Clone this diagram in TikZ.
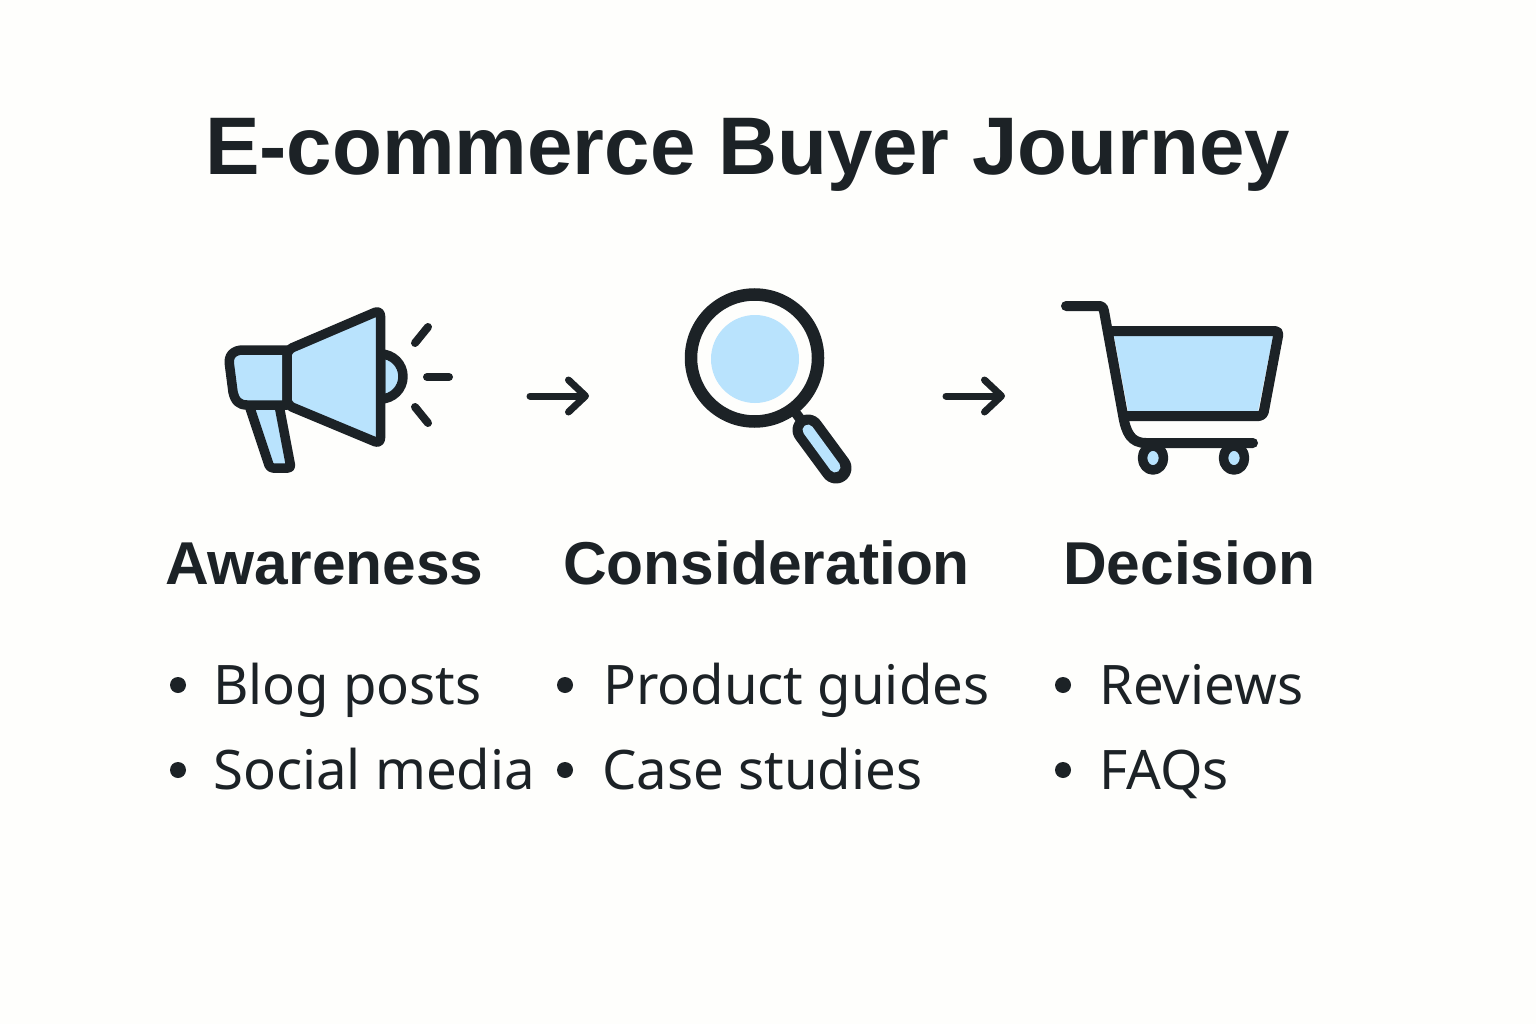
\documentclass[tikz,border=0pt]{standalone}
\usepackage{fontspec}
\setmainfont{Liberation Sans}
\newfontfamily\itemfont{Noto Sans}
\usetikzlibrary{arrows.meta}
\definecolor{ink}{HTML}{1C2226}
\definecolor{sky}{HTML}{B9E3FD}
\definecolor{paper}{HTML}{FEFEFC}
\tikzset{
  icon/.style={draw=ink,line width=9.5pt,line join=round,line cap=round,fill=sky},
  carttrim/.style={draw=ink,line width=10pt,line cap=round,line join=round},
  ray/.style={draw=ink,line width=8pt,line cap=round},
  flow/.style={draw=ink,line width=7pt,line cap=round,-{Straight Barb[length=17pt,width=32pt,round]}},
  titletext/.style={anchor=base west,inner sep=0pt,text=ink,font=\fontsize{81.7}{82}\selectfont\bfseries},
  headtext/.style={anchor=base west,inner sep=0pt,text=ink,font=\fontsize{60.5}{62}\selectfont\bfseries},
  itemtext/.style={anchor=base west,inner sep=0pt,text=ink,font=\itemfont\fontsize{54.5}{56}\selectfont},
  dot/.style={circle,fill=ink,draw=none,minimum size=16pt,inner sep=0pt}
}
\begin{document}
\begin{tikzpicture}[x=1pt,y=-1pt]
\useasboundingbox[fill=paper] (0,0) rectangle (1536,1024);
\node[titletext] (title) at (205,175) {E-commerce Buyer Journey};
% megaphone
\draw[icon] (380.5,354) arc[start angle=-90,end angle=90,radius=22.5] -- cycle;
\draw[icon,rounded corners=3pt] (249,405) -- (270,468) -- (291,468) -- (279,405) -- cycle;
\draw[icon] (287,350) -- (243,350) .. controls (233,350) and (228,356) .. (229.5,365) -- (233,392) .. controls (235,401) and (239,405) .. (247,405) -- (287,405) -- cycle;
\draw[icon,rounded corners=6pt] (287,350) -- (380.5,310) -- (380.5,444) -- (287,405) -- cycle;
\draw[ray] (415,343) -- (428,327);
\draw[ray] (427,377) -- (449,377);
\draw[ray] (415,407) -- (428,423);
% arrow 1
\coordinate (a1) at (530,396);
\coordinate (a1e) at (589,396);
\draw[flow] (a1) -- (a1e);
% magnifier
\draw[ink,line width=10pt] (795,412) -- (807,428);
\draw[ink,line width=12.5pt,fill=paper] (754.5,358) circle[radius=63.5];
\fill[sky] (755,359) circle[radius=44];
\draw[ink,line width=31pt,line cap=round] (808,430) -- (836,468);
\draw[sky,line width=11pt,line cap=round] (808,430) -- (835,467);
% arrow 2
\coordinate (a2) at (946,396);
\coordinate (a2e) at (1005,396);
\draw[flow] (a2) -- (a2e);
% cart
\fill[sky] (1114,336) -- (1273,336) -- (1258,411) -- (1128,411) -- cycle;
\draw[carttrim,rounded corners=4pt] (1109,331) -- (1279,331) -- (1263,416) -- (1124,416);
\draw[carttrim] (1066,306) -- (1100,306) .. controls (1103,306) and (1103,308) .. (1104,311) -- (1123,415) .. controls (1126,433) and (1131,443) .. (1146,443) -- (1253,443);
\draw[icon] (1153,458) ellipse[x radius=10.5,y radius=12];
\draw[icon] (1234,458) ellipse[x radius=10.5,y radius=12];
% headings
\node[headtext] (h1) at (165,584) {Awareness};
\node[headtext] (h2) at (563,584) {Consideration};
\node[headtext] (h3) at (1063,584) {Decision};
% lists
\node[dot] (d1) at (178,685) {};
\node[dot] (d2) at (178,770) {};
\node[dot] (d3) at (565,685) {};
\node[dot] (d4) at (565,770) {};
\node[dot] (d5) at (1063,685) {};
\node[dot] (d6) at (1063,770) {};
\node[itemtext] (t1) at (213,704) {Blog posts};
\node[itemtext] (t2) at (213,789) {Social media};
\node[itemtext] (t3) at (603,704) {Product guides};
\node[itemtext] (t4) at (602,789) {Case studies};
\node[itemtext] (t5) at (1099,704) {Reviews};
\node[itemtext] (t6) at (1099,789) {FAQs};
\end{tikzpicture}
\end{document}
